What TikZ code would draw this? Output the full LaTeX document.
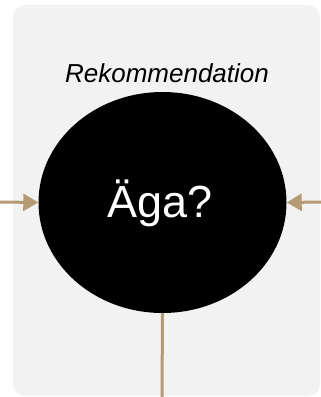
\documentclass[tikz,border=0pt]{standalone}
\usepackage{fontspec}
\setmainfont{Liberation Sans}
\usetikzlibrary{arrows.meta, positioning, shapes.geometric}
\definecolor{tanline}{RGB}{181,155,116}
\definecolor{panelgray}{RGB}{242,242,242}

\begin{document}
\begin{tikzpicture}[x=1pt, y=-1pt,
    link/.style={draw=tanline, line width=3pt},
    tip/.style={-{Triangle[length=15pt, width=17pt]}}]
  \useasboundingbox (0,0) rectangle (321,397);

  % Panel
  \fill[panelgray, rounded corners=12pt] (13,5) rectangle (320,396);

  % Decision node
  \node (dec) [ellipse, fill=black, inner sep=0pt,
        minimum width=248pt, minimum height=221pt] at (162.5,202.5) {};
  \node (q) [anchor=base, text=white, font=\fontsize{45}{50}\selectfont] at (160,217) {Äga?};
  \node (lbl) [anchor=base, font=\fontsize{26}{30}\selectfont\itshape] at (167,82) {Rekommendation};

  % Free ends
  \coordinate (inL) at (0,202);
  \coordinate (inR) at (321,202);
  \coordinate (out) at (162,397);

  % Connectors
  \draw[link, tip] (inL) -- (dec.west);
  \draw[link, tip] (inR) -- (dec.east);
  \draw[link] (dec.south) -- (out);
\end{tikzpicture}
\end{document}
